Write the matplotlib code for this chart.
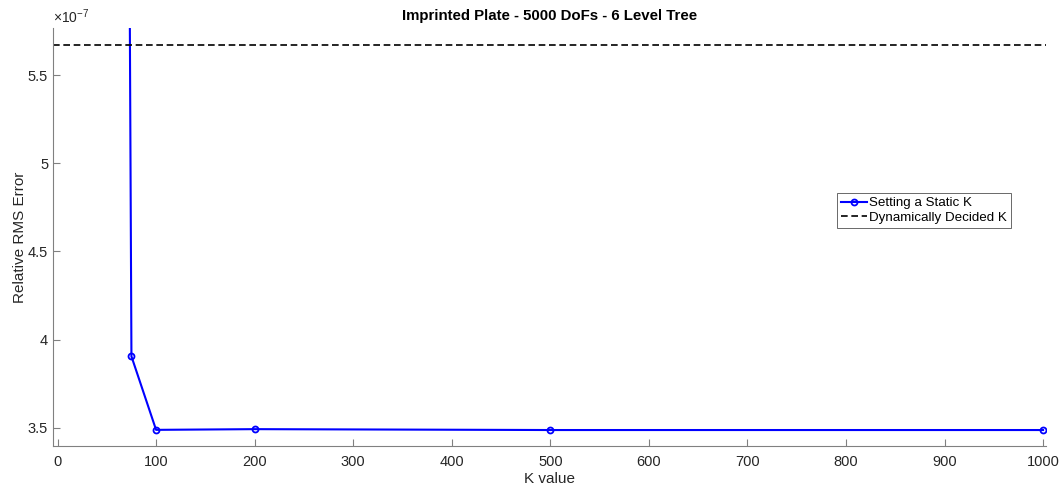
import matplotlib
matplotlib.use('Agg')

import matplotlib.pyplot as plt
import matplotlib.ticker as ticker
import numpy as np

# -----------------------------
# STYLE
# -----------------------------
plt.rcParams.update({
    'font.family': 'Liberation Sans',
    'mathtext.fontset': 'custom',
    'mathtext.rm': 'Liberation Sans',
    'mathtext.it': 'Liberation Sans',
    'axes.linewidth': 0.8,
})

# -----------------------------
# DATA
# -----------------------------
k_values = [50, 75, 100, 200, 500, 1000]
static_err = [3.3e-6, 3.905e-7, 3.488e-7, 3.492e-7, 3.487e-7, 3.487e-7]
dynamic_err = 5.67e-7

axis_gray = '#808080'
text_gray = '#262626'

# -----------------------------
# FIGURE
# -----------------------------
fig = plt.figure(figsize=(10.64, 4.93), dpi=100)
ax = fig.add_axes([0.0498, 0.0959, 0.9337, 0.8471])

ax.plot(k_values, static_err, color='#0000ff', linewidth=1.5,
        marker='o', markersize=4.3, markerfacecolor='none',
        markeredgewidth=1.3, label='Setting a Static K')
ax.axhline(dynamic_err, color='black', linewidth=1.2,
           linestyle=(0, (4, 2.2)), label='Dynamically Decided K')

ax.set_xlim(-4.6, 1003.4)
ax.set_ylim(3.398e-7, 5.767e-7)

ax.set_xticks(np.arange(0, 1001, 100))
ax.set_yticks([3.5e-7, 4e-7, 4.5e-7, 5e-7, 5.5e-7])
ax.yaxis.set_major_formatter(ticker.FuncFormatter(lambda v, _: f'{v * 1e7:g}'))
ax.text(0.0, 1.004, r'$\times10^{-7}$', transform=ax.transAxes,
        fontsize=10, color=text_gray, va='bottom', ha='left')

ax.spines['top'].set_visible(False)
ax.spines['right'].set_visible(False)
for s in ('left', 'bottom'):
    ax.spines[s].set_color(axis_gray)
ax.tick_params(direction='in', length=5, width=0.8, color=axis_gray,
               labelcolor=text_gray, labelsize=10.5)
ax.tick_params(axis='x', pad=6.5)
ax.tick_params(axis='y', pad=3.5)

ax.set_title('Imprinted Plate - 5000 DoFs - 6 Level Tree',
             fontsize=10.8, fontweight='bold', pad=6)
ax.set_xlabel('K value', fontsize=11, color=text_gray, labelpad=2)
ax.set_ylabel('Relative RMS Error', fontsize=11, color=text_gray, labelpad=0.5)

leg = ax.legend(loc='upper left', bbox_to_anchor=(0.789, 0.605),
                fontsize=9.6, frameon=True, fancybox=False,
                borderpad=0.3, labelspacing=0.15, handlelength=2.0,
                handletextpad=0.15, borderaxespad=0)
leg.get_frame().set_edgecolor('#262626')
leg.get_frame().set_linewidth(0.6)

# -----------------------------
# SAVE
# -----------------------------
plt.savefig('out.png', dpi=100)
plt.close()
